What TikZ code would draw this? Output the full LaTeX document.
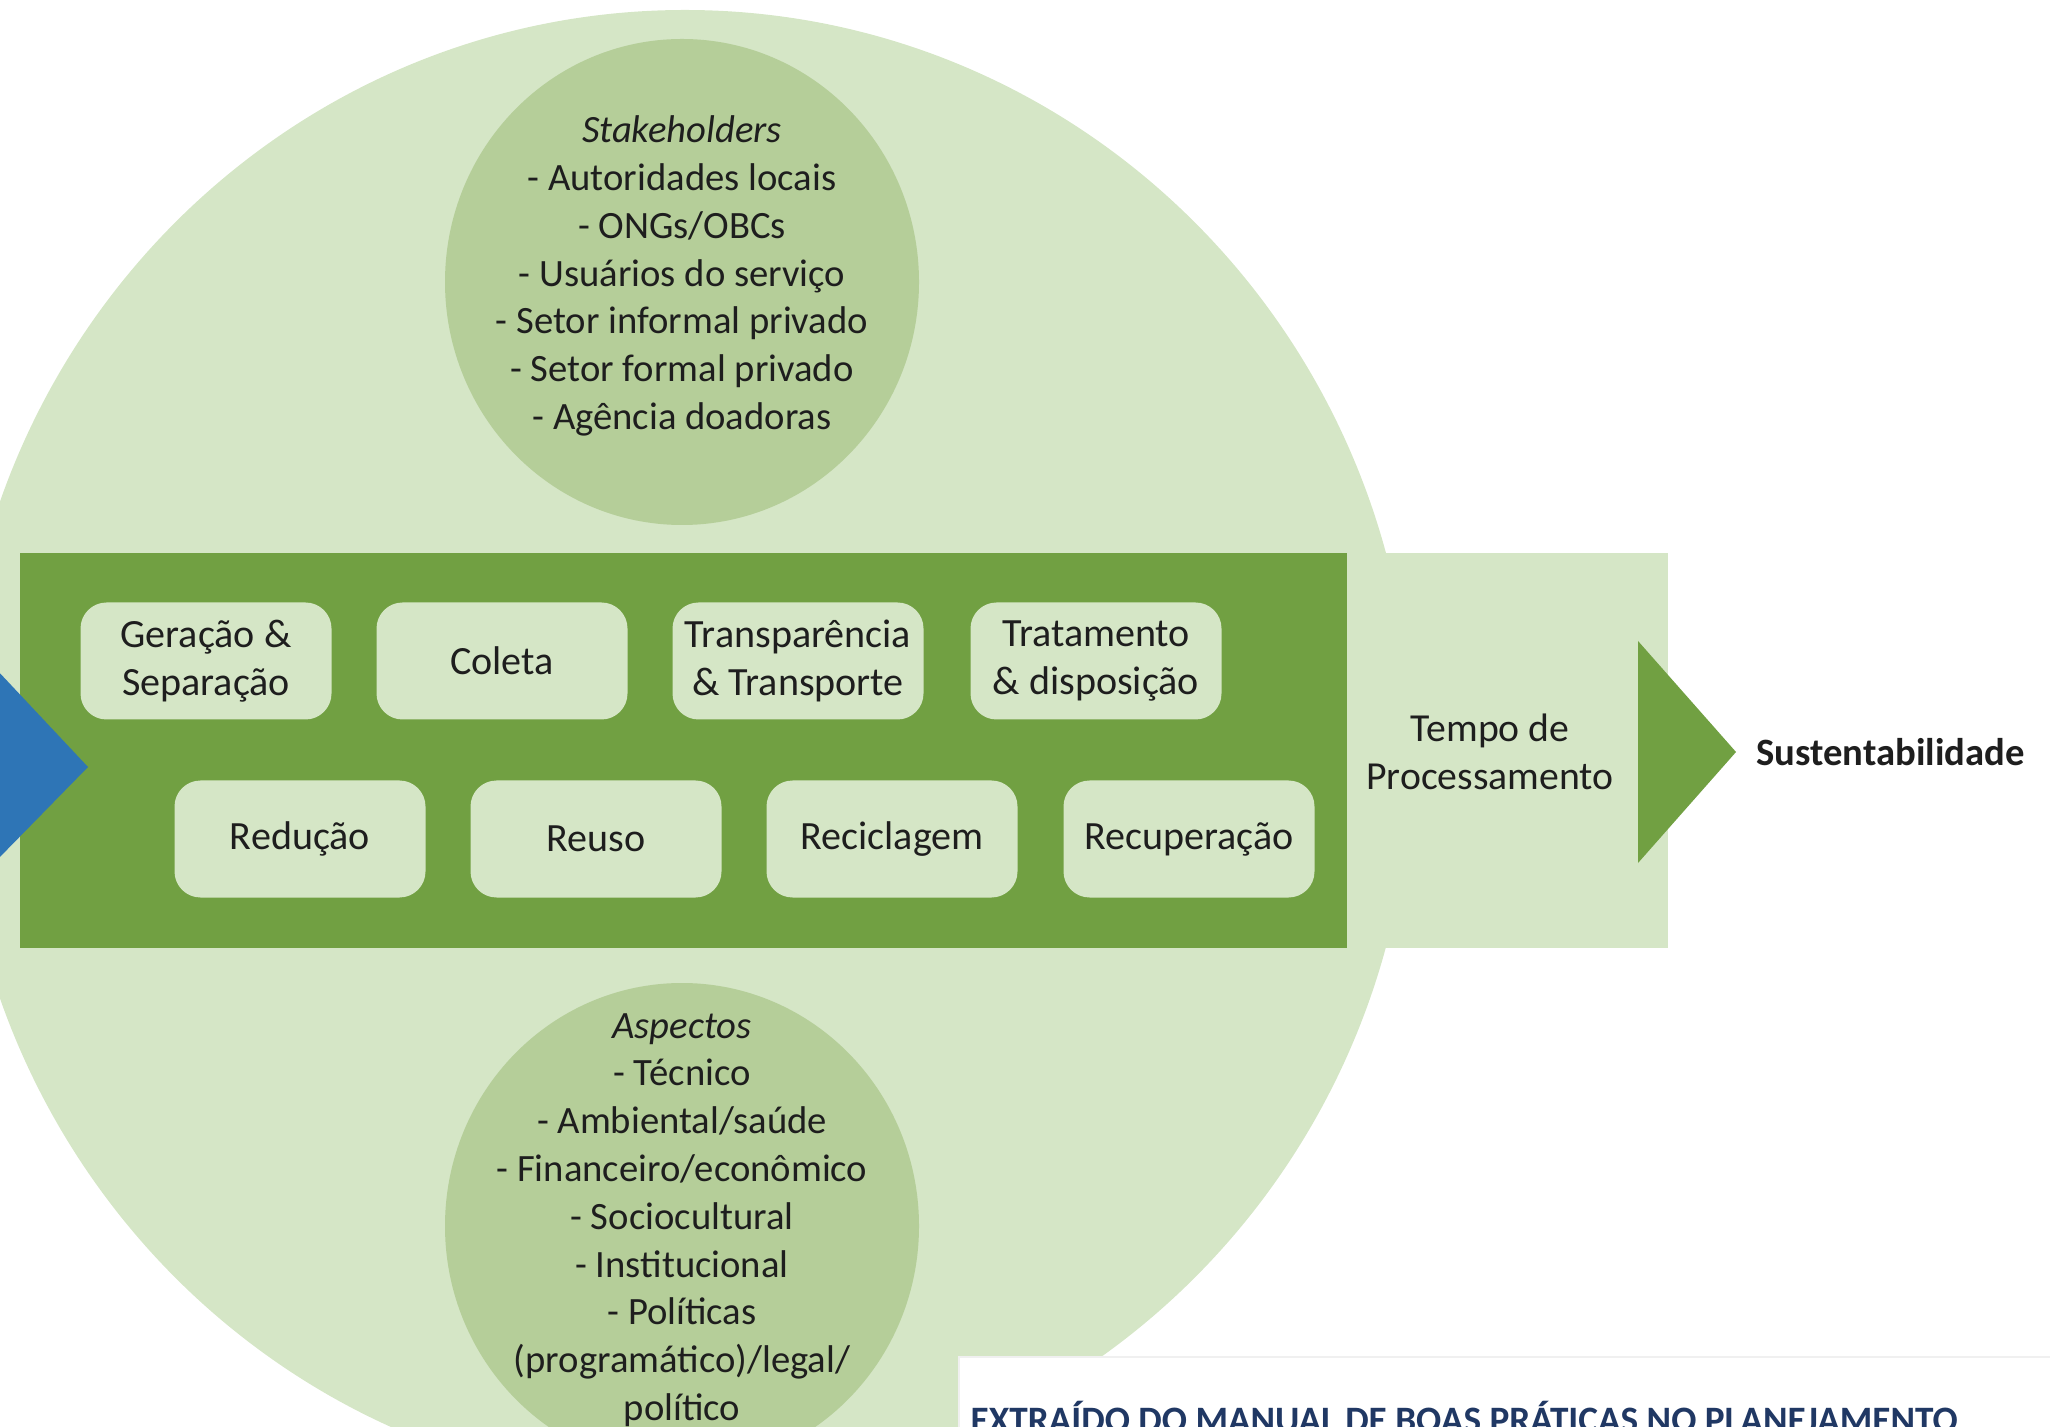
\documentclass[tikz,border=0pt]{standalone}
\usepackage{fontspec}
\setmainfont{Carlito}
\definecolor{paleGreen}{HTML}{D5E6C6}
\definecolor{midGreen}{HTML}{B5CE99}
\definecolor{darkGreen}{HTML}{71A042}
\definecolor{arrowBlue}{HTML}{2E75B6}
\definecolor{navyText}{HTML}{203864}
\definecolor{inkText}{HTML}{1E1E1E}
\begin{document}
\begin{tikzpicture}[font=\fontsize{11}{13.6}\selectfont,
    stage/.style={rectangle,rounded corners=0.26cm,fill=paleGreen,minimum width=2.51cm,minimum height=1.17cm,align=center,text=inkText,inner sep=0pt,font=\fontsize{11.4}{13.6}\selectfont},
    group/.style={align=center,text=inkText,inner sep=0pt}]
                        \useasboundingbox (0,0) rectangle (20.5,-14.27);
                        \clip (0,0) rectangle (20.5,-14.27);
                        \fill[paleGreen] (6.85,-7.5) ellipse (7.27 and 7.4);
                        \fill[paleGreen] (13.47,-5.53) rectangle (16.68,-9.48);
                        \fill[darkGreen] (0.2,-5.53) rectangle (13.47,-9.48);
                        \fill[arrowBlue] (-0.5,-6.2) -- (0.88,-7.67) -- (-0.5,-9.08) -- cycle;
                        \fill[midGreen] (6.82,-2.82) ellipse (2.37 and 2.43);
                        \fill[midGreen] (6.82,-12.26) ellipse (2.37 and 2.43);
                        \node[group] (stake) at (6.82,-2.76) {\textit{Stakeholders}\\- Autoridades locais\\- ONGs/OBCs\\- Usuários do serviço\\- Setor informal privado\\- Setor formal privado\\- Agência doadoras};
                        \node[group] (aspect) at (6.82,-12.2) {\textit{Aspectos}\\- Técnico\\- Ambiental/saúde\\- Financeiro/econômico\\- Sociocultural\\- Institucional\\- Políticas\\(programático)/legal/\\político};
                        \node[stage] (gen) at (2.06,-6.61) {Geração \&\\Separação};
                        \node[stage] (col) at (5.02,-6.61) {Coleta};
                        \node[stage] (tra) at (7.98,-6.61) {Transparência\\\& Transporte};
                        \node[stage] (dis) at (10.96,-6.61) {Tratamento\\\& disposição};
                        \node[stage] (red) at (3.00,-8.39) {Redução};
                        \node[stage] (reu) at (5.96,-8.39) {Reuso};
                        \node[stage] (rec) at (8.92,-8.39) {Reciclagem};
                        \node[stage] (rcp) at (11.89,-8.39) {Recuperação};
                        \node[align=center,text=inkText,font=\fontsize{11.3}{13.6}\selectfont] (time) at (14.90,-7.52) {Tempo de\\Processamento};
                        \fill[darkGreen] (16.38,-6.41) -- (17.36,-7.52) -- (16.38,-8.63) -- cycle;
                        \node[anchor=west,text=inkText,font=\fontsize{11}{13.6}\selectfont\bfseries] (sust) at (17.44,-7.52) {Sustentabilidade};
                        \fill[gray!12] (9.58,-13.56) rectangle (20.6,-14.4);
                        \fill[white] (9.60,-13.58) rectangle (20.6,-14.4);
                        \node[anchor=base west,inner sep=0pt,text=navyText,font=\fontsize{10.6}{13}\selectfont\bfseries] (src) at (9.70,-14.32) {EXTRAÍDO DO MANUAL DE BOAS PRÁTICAS NO PLANEJAMENTO};
                    \end{tikzpicture}
\end{document}
